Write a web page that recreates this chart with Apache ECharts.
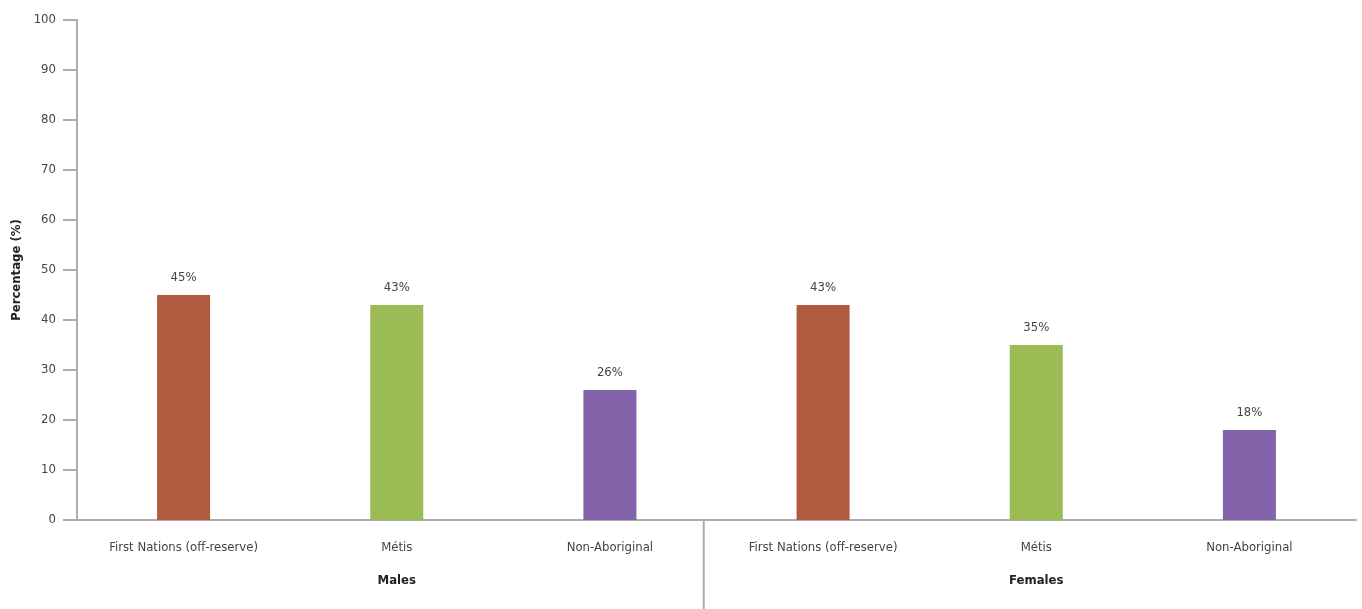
<!DOCTYPE html>
<html><head><meta charset="utf-8">
<script src="https://cdn.jsdelivr.net/npm/echarts@6/dist/echarts.min.js"></script>
<style>html,body{margin:0;padding:0;background:#fff}#c{width:1362px;height:609px}</style>
</head><body><div id="c"></div>
<script>
const categories = ['First Nations (off-reserve)', 'Métis', 'Non-Aboriginal', 'First Nations (off-reserve)', 'Métis', 'Non-Aboriginal'];
const groups = ['Males', 'Females'];
const values = [45, 43, 26, 43, 35, 18];
const barColors = ['#B05A40', '#9BBB55', '#8364AA', '#B05A40', '#9BBB55', '#8364AA'];
const yTicks = [0, 10, 20, 30, 40, 50, 60, 70, 80, 90, 100];

const FONT = '"DejaVu Sans Condensed", "Liberation Sans Narrow", sans-serif';
const AX = '#ADADB1';
const chart = echarts.init(document.getElementById('c'));
chart.setOption({
  animation: false,
  textStyle: { fontFamily: FONT },
  grid: { left: 77, top: 20, right: 6, bottom: 89 },
  xAxis: [{
    type: 'category', data: categories.map((c, i) => ({ value: c + '#' + i })),
    axisLine: { lineStyle: { color: AX, width: 2 } },
    axisTick: { show: false },
    axisLabel: { formatter: v => v.split('#')[0], color: '#444', fontSize: 13, margin: 21, fontFamily: FONT, interval: 0 }
  }, {
    type: 'category', data: groups, position: 'bottom',
    axisLine: { show: false }, axisTick: { show: false },
    axisLabel: { color: '#222', fontSize: 13, fontWeight: 'bold', margin: 54, fontFamily: FONT }
  }],
  yAxis: {
    type: 'value', min: 0, max: 100, interval: 10,
    name: 'Percentage (%)', nameLocation: 'middle', nameGap: 54, nameRotate: 90,
    nameTextStyle: { fontWeight: 'bold', fontSize: 13, color: '#222', fontFamily: FONT },
    axisLine: { show: true, lineStyle: { color: AX, width: 2 } },
    axisTick: { show: true, length: 14, lineStyle: { color: AX, width: 2 } },
    axisLabel: { color: '#444', fontSize: 13, margin: 21, fontFamily: FONT, formatter: v => yTicks.includes(v) ? String(v) : '' },
    splitLine: { show: false }
  },
  series: [{
    type: 'bar', xAxisIndex: 0, barWidth: 53,
    data: values.map((v, i) => ({ value: v, itemStyle: { color: barColors[i] } })),
    label: { show: true, position: 'top', distance: 11, formatter: p => p.value + '%', color: '#444', fontSize: 13, fontFamily: FONT }
  }]
});
// divider between the two groups
const p2 = chart.convertToPixel({ xAxisIndex: 0 }, categories[2] + '#2');
const p3 = chart.convertToPixel({ xAxisIndex: 0 }, categories[3] + '#3');
const y0 = chart.convertToPixel({ yAxisIndex: 0 }, 0);
const xd = p2 + (p3 - p2) * 0.44;
chart.setOption({ graphic: [{ type: 'line', shape: { x1: xd, y1: y0, x2: xd, y2: 609 }, style: { stroke: AX, lineWidth: 2 } }] });
</script></body></html>
